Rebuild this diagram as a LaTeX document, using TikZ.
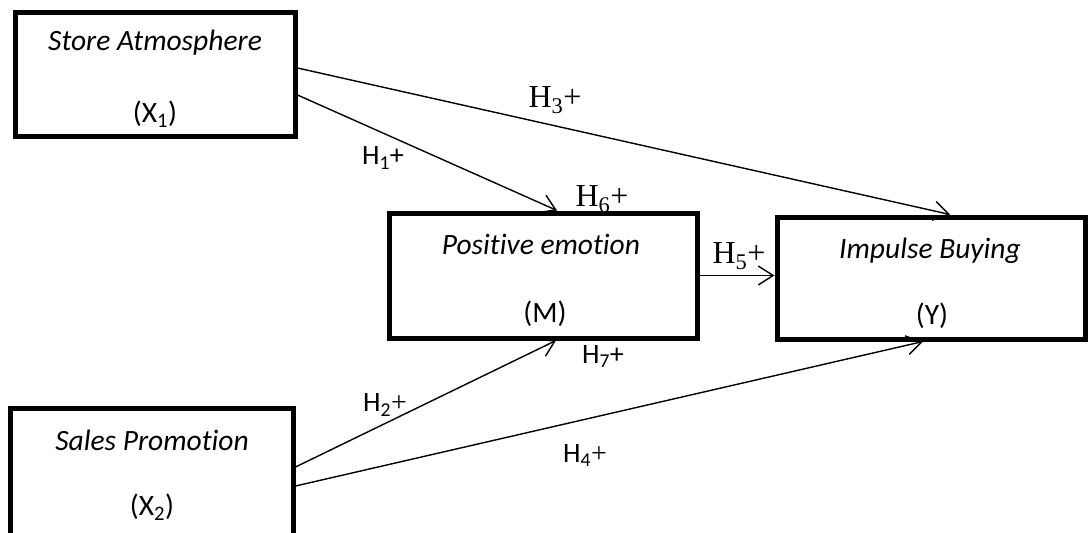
\documentclass[tikz,border=0pt]{standalone}
\usepackage{fontspec}
\setmainfont{Carlito}[Ligatures=NoCommon]
\newfontfamily\timesfont{Liberation Serif}
\usetikzlibrary{arrows.meta}
\begin{document}
\begin{tikzpicture}[x=1pt, y=-1pt,
  box/.style={draw, line width=5pt, inner sep=0pt},
  conn/.style={line width=1.4pt, -{Straight Barb[length=15pt,width=19pt,line width=1.4pt]}},
  title/.style={font=\fontsize{29.5}{34}\selectfont\itshape},
  var/.style={font=\fontsize{29.5}{34}\selectfont},
  hcal/.style={font=\fontsize{28}{32}\selectfont},
  htimes/.style={font=\fontsize{32}{36}\selectfont\timesfont}]
\useasboundingbox (0,0) rectangle (1088,533);
\clip (0,0) rectangle (1088,533);

% constructs
\node[box, minimum width=280pt, minimum height=124pt] (sa) at (155,74) {};
\node[box, minimum width=308pt, minimum height=125pt] (pe) at (543,275.5) {};
\node[box, minimum width=308pt, minimum height=122pt] (ib) at (931,278) {};
\node[box, minimum width=283pt, minimum height=140pt] (sp) at (151.5,478) {};

% construct names and symbols
\node[title] (saT) at (155,43) {Store Atmosphere};
\node[var]   (saV) at (155,114) {(X\textsubscript{1})};
\node[title] (peT) at (541,244) {Positive emotion};
\node[var]   (peV) at (545,314) {(M)};
\node[title] (ibT) at (930,251) {Impulse Buying};
\node[var]   (ibV) at (932,316) {(Y)};
\node[title] (spT) at (152,440) {Sales Promotion};
\node[var]   (spV) at (152,507) {(X\textsubscript{2})};

% hypothesised paths
\draw[conn] ([yshift=-21pt]sa.east) -- ([xshift=14pt]pe.north);
\draw[conn] ([yshift=6pt]sa.east) -- ([xshift=19pt]ib.north);
\draw[conn, line width=1pt] (pe.east) -- (pe.east -| ib.west);
\draw[conn] ([yshift=11pt]sp.east) -- ([xshift=13pt]pe.south);
\draw[conn] ([yshift=-8pt]sp.east) -- ([xshift=-8pt]ib.south);

% hypothesis labels
\node[hcal]   (h1) at (383,158) {H\textsubscript{1}+};
\node[htimes] (h3) at (555,100) {H\textsubscript{3}+};
\node[htimes] (h6) at (602,199) {H\textsubscript{6}+};
\node[htimes] (h5) at (739,256) {H\textsubscript{5}+};
\node[hcal]   (h7) at (603,357) {H\textsubscript{7}+};
\node[hcal]   (h2) at (385,405) {H\textsubscript{2}{\timesfont+}};
\node[hcal]   (h4) at (585,456) {H\textsubscript{4}{\timesfont+}};
\end{tikzpicture}
\end{document}
